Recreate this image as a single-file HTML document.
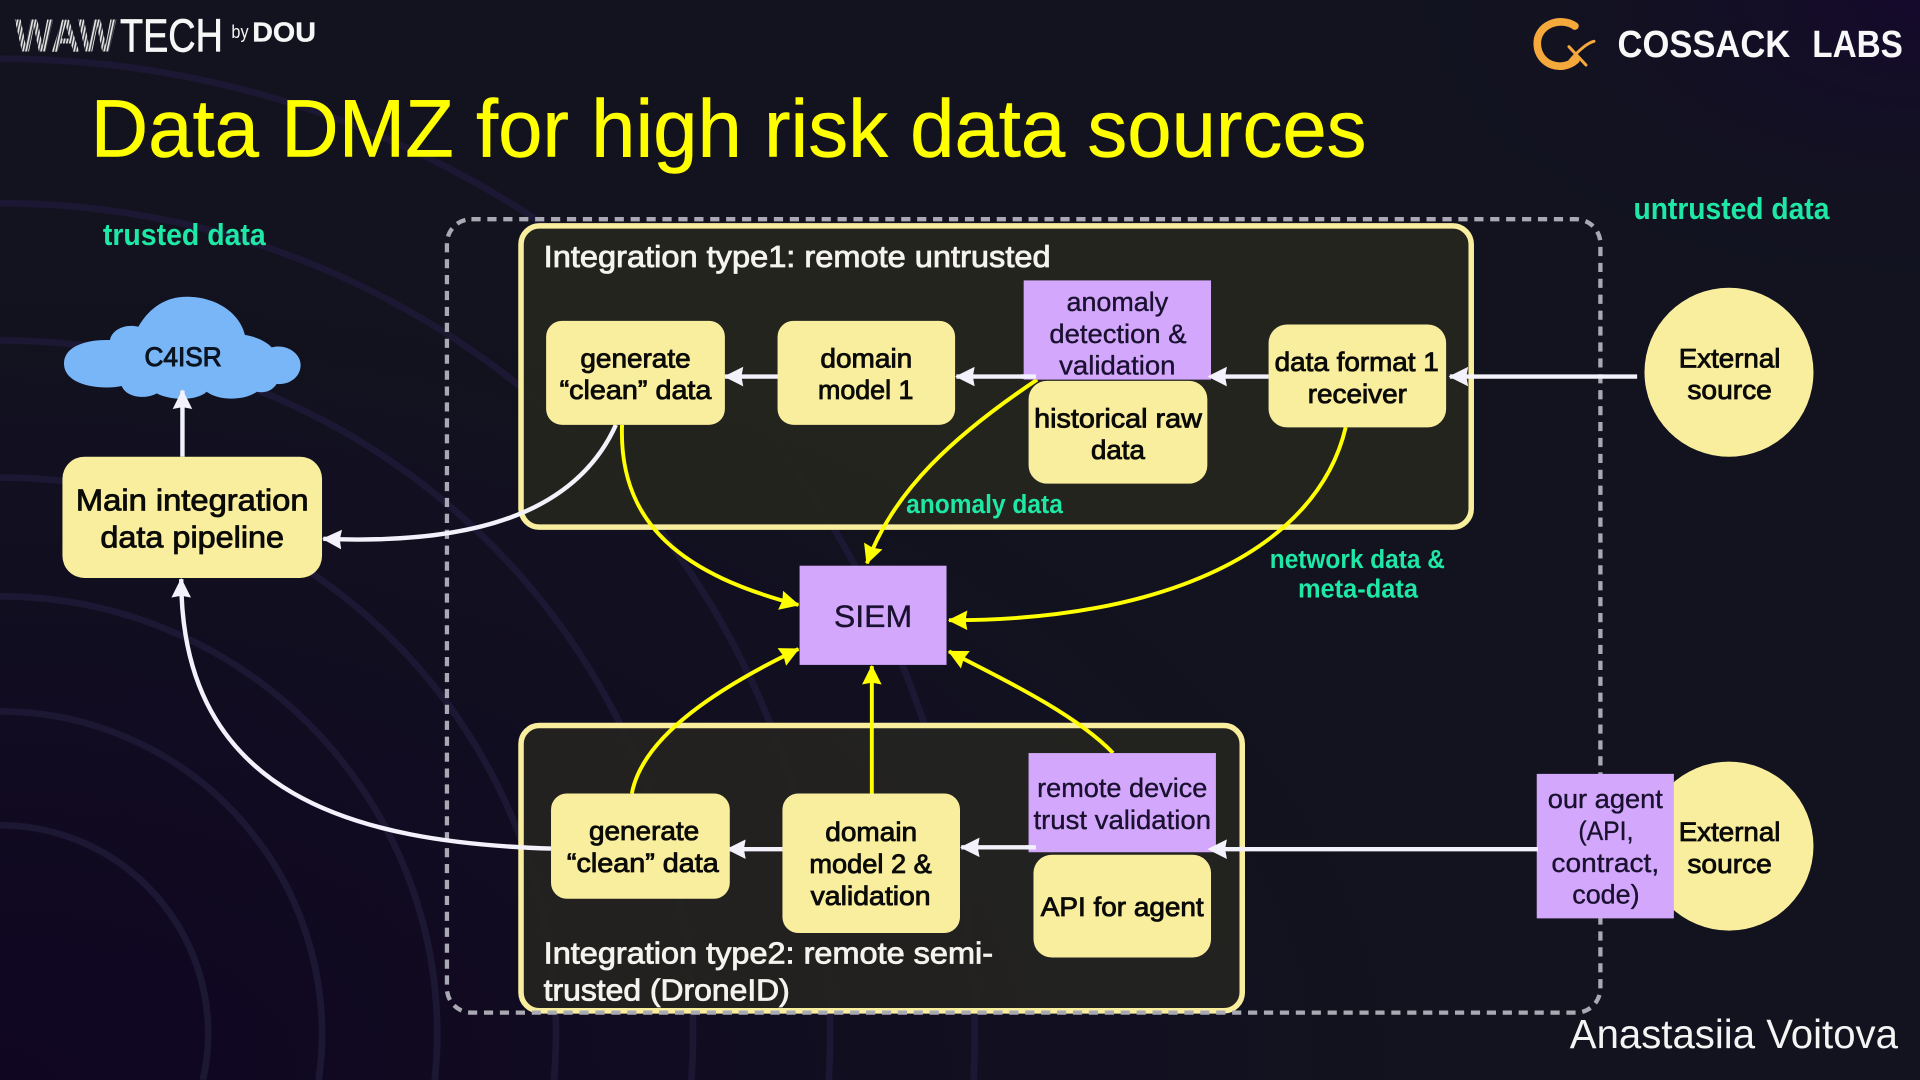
<!DOCTYPE html>
<html lang="en"><head><meta charset="utf-8"><title>Data DMZ for high risk data sources</title>
<style>
html,body{margin:0;padding:0;width:1920px;height:1080px;overflow:hidden;background:#12131f}
svg{display:block;position:absolute;left:0;top:0;overflow:hidden}
text{font-family:"Liberation Sans",sans-serif}
.n text{fill:#0b0b08;stroke:#0b0b08;stroke-width:.7;font-size:22px;text-anchor:middle}
.p text{fill:#1a1030;font-size:22px;text-anchor:middle;stroke:#1a1030;stroke-width:.3}
.g{fill:#1fe8a6;font-weight:bold;font-size:23px}
.w{fill:#f4f3ee;font-size:25px;stroke:#f4f3ee;stroke-width:.7}
</style></head><body>
<svg width="1920" height="1080" viewBox="0 0 1568 882" xmlns="http://www.w3.org/2000/svg">
<defs>
<radialGradient id="bl" cx="0" cy="1" r=".75"><stop offset="0" stop-color="#100622"/><stop offset="1" stop-color="#12131f"/></radialGradient>
<radialGradient id="tr" cx="1" cy="0" r=".3"><stop offset="0" stop-color="#15092c"/><stop offset="1" stop-color="#12131f" stop-opacity="0"/></radialGradient>
<pattern id="st" width="2.400" height="8" patternUnits="userSpaceOnUse" patternTransform="rotate(12)"><rect width="2.400" height="8" fill="#2c2c34"/><rect width="1.400" height="8" fill="#e6e6e6"/></pattern>
<marker id="mw" markerUnits="userSpaceOnUse" markerWidth="20" markerHeight="18" refX="15" refY="8" orient="auto"><path d="M0 0L16 8L0 16L1.500 8Z" fill="#f3f1fb"/></marker>
<marker id="my" markerUnits="userSpaceOnUse" markerWidth="20" markerHeight="18" refX="15" refY="8" orient="auto"><path d="M0 0L16 8L0 16L1.500 8Z" fill="#ffff00"/></marker>
</defs>
<rect width="1568" height="882" fill="url(#bl)"/>
<rect width="1568" height="882" fill="url(#tr)"/>
<g fill="none" stroke="#1c1733" stroke-width="5.500">
<path d="M0 674A170 170 0 0 1 165.700 882"/>
<path d="M0 581A263 263 0 0 1 260.200 882"/>
<path d="M0 487A357 357 0 0 1 355 882"/>
<path d="M0 390A454 454 0 0 1 452.400 882"/>
<path d="M0 278A566 566 0 0 1 564.700 882"/>
<path d="M0 166A678 678 0 0 1 676.900 882"/>
<path d="M0 48A796 796 0 0 1 795.100 882"/>
</g>
<rect x="425.500" y="184.500" width="776" height="246" rx="15" fill="#25251f" fill-opacity=".95" stroke="#f9ee9e" stroke-width="4.500"/>
<rect x="425.500" y="592.500" width="589" height="233" rx="15" fill="#242420" fill-opacity=".88" stroke="#f9ee9e" stroke-width="4.500"/>
<rect x="365" y="179" width="942" height="648" rx="20" fill="none" stroke="#a9a9b3" stroke-width="3.500" stroke-dasharray="7.500 5.500"/>

<text x="74" y="128" font-size="67" fill="#ffff00" stroke="#ffff00" stroke-width=".4" textLength="1042" lengthAdjust="spacingAndGlyphs">Data DMZ for high risk data sources</text>

<text x="12" y="42" font-size="37.500" font-weight="bold" fill="url(#st)" textLength="83" lengthAdjust="spacingAndGlyphs">WAW</text>
<text x="98" y="42" font-size="37.500" fill="#f6f6f6" stroke="#f6f6f6" stroke-width=".6" textLength="84" lengthAdjust="spacingAndGlyphs">TECH</text>
<text x="189" y="31" font-size="15" fill="#f4f4f4" textLength="14" lengthAdjust="spacingAndGlyphs">by</text>
<text x="206" y="34" font-size="23" font-weight="bold" fill="#f6f6f6" stroke="#f6f6f6" stroke-width=".3" textLength="52" lengthAdjust="spacingAndGlyphs">DOU</text>

<g transform="translate(1241.300,8.170) scale(.2722)" fill="none" stroke="#f5a83c" stroke-linecap="round">
<path d="M165 48C120 18 48 45 52 105C56 165 125 188 168 150" stroke-width="23"/>
<path d="M147 110L198 165" stroke-width="9"/>
<path d="M222 94C205 98 178 118 150 152" stroke-width="9"/>
</g>
<text x="1321" y="46.500" font-size="31" font-weight="bold" fill="#f8f8f8" textLength="141" lengthAdjust="spacingAndGlyphs">COSSACK</text>
<text x="1480" y="46.500" font-size="31" font-weight="bold" fill="#f8f8f8" textLength="74" lengthAdjust="spacingAndGlyphs">LABS</text>

<text class="g" x="84" y="200" style="font-size:25px" textLength="133" lengthAdjust="spacingAndGlyphs">trusted data</text>
<text class="g" x="1334" y="179" style="font-size:25px" textLength="160" lengthAdjust="spacingAndGlyphs">untrusted data</text>
<text class="g" x="740" y="419" style="font-size:21px" textLength="128" lengthAdjust="spacingAndGlyphs">anomaly data</text>
<text class="g" x="1037" y="464" style="font-size:21px" textLength="143" lengthAdjust="spacingAndGlyphs">network data &amp;</text>
<text class="g" x="1060" y="488" style="font-size:21px" textLength="98" lengthAdjust="spacingAndGlyphs">meta-data</text>

<text class="w" x="444" y="218" textLength="414" lengthAdjust="spacingAndGlyphs">Integration type1: remote untrusted</text>
<text class="w" x="444" y="787" textLength="367" lengthAdjust="spacingAndGlyphs">Integration type2: remote semi-</text>
<text class="w" x="444" y="817" textLength="201" lengthAdjust="spacingAndGlyphs">trusted (DroneID)</text>
<text x="1282" y="856" font-size="33" fill="#f4f4f4" textLength="268" lengthAdjust="spacingAndGlyphs">Anastasiia Voitova</text>

<!-- cloud -->
<path transform="translate(40.830,228.700) scale(.2722)" fill="#78b6f8" d="M42 250C42 205 95 178 180 180C185 150 225 130 265 140C300 80 350 50 410 50C500 50 570 100 585 165C620 170 650 185 665 202C710 190 752 220 752 255C752 290 720 315 680 312C665 335 640 340 620 335C590 360 510 365 470 335C445 360 370 365 320 340C290 358 230 355 215 318C160 330 42 320 42 250Z"/>
<text x="149.500" y="299" font-size="22" text-anchor="middle" fill="#0b1420" stroke="#0b1420" stroke-width=".8" textLength="63" lengthAdjust="spacingAndGlyphs">C4ISR</text>

<!-- white connectors -->
<g fill="none" stroke="#f3f1fb" stroke-width="3.600">
<path d="M1337 307.500H1184" marker-end="url(#mw)"/>
<path d="M636 307.500H592" marker-end="url(#mw)"/>
<path d="M838 307.500H781" marker-end="url(#mw)"/>
<path d="M842 692H785" marker-end="url(#mw)"/>
<path d="M639 693.500H594" marker-end="url(#mw)"/>
<path d="M450 693C290 688 148 650 148 473" marker-end="url(#mw)"/>
<path d="M503 347C470 420 385 445 264 440" marker-end="url(#mw)"/>
<path d="M149 373V319" marker-end="url(#mw)"/>
</g>
<!-- yellow connectors -->
<g fill="none" stroke="#ffff00" stroke-width="3.200">
<path d="M508 347C505 430 560 470 652 494" marker-end="url(#my)"/>
<path d="M847 310C780 355 730 400 708 460" marker-end="url(#my)"/>
<path d="M1099 349C1075 450 950 507 775 506.500" marker-end="url(#my)"/>
<path d="M516 648C525 600 590 560 652 530" marker-end="url(#my)"/>
<path d="M712 648V544" marker-end="url(#my)"/>
<path d="M909 615C880 585 830 560 775 532" marker-end="url(#my)"/>
</g>

<!-- yellow nodes -->
<g fill="#f9ee9e">
<rect x="446" y="262" width="146" height="85" rx="13"/>
<rect x="635" y="262" width="145" height="85" rx="13"/>
<rect x="840" y="311" width="146" height="84" rx="15"/>
<rect x="1036" y="265" width="145" height="84" rx="15"/>
<rect x="450" y="648" width="146" height="86" rx="13"/>
<rect x="639" y="648" width="145" height="114" rx="13"/>
<rect x="844" y="698" width="145" height="84" rx="15"/>
<rect x="51" y="373" width="212" height="99" rx="18"/>
<circle cx="1412" cy="304" r="69"/>
<circle cx="1412" cy="691" r="69"/>
</g>
<!-- purple nodes -->
<g fill="#d3a8fc">
<rect x="836" y="229" width="153" height="81"/>
<rect x="840" y="615" width="153" height="81"/>
<rect x="653" y="462" width="120" height="81"/>
<rect x="1255" y="632" width="112" height="118"/>
</g>
<!-- arrows that land on the purple edges -->
<g fill="none" stroke="#f3f1fb" stroke-width="3.600">
<path d="M1036 307.500H995"/><path d="M1256 693.500H995"/><path d="M846 307.500H834"/><path d="M846 692H838"/>
</g>
<path d="M1002 299.500L986 307.500L1002 315.500L1000.500 307.500Z" fill="#f3f1fb"/>
<path d="M1002 685.500L986 693.500L1002 701.500L1000.500 693.500Z" fill="#f3f1fb"/>

<g class="n">
<text x="519" y="300" textLength="90" lengthAdjust="spacingAndGlyphs">generate</text>
<text x="519" y="326" textLength="124" lengthAdjust="spacingAndGlyphs">“clean” data</text>
<text x="707.500" y="300" textLength="75" lengthAdjust="spacingAndGlyphs">domain</text>
<text x="707" y="326" textLength="78" lengthAdjust="spacingAndGlyphs">model 1</text>
<text x="913" y="349" textLength="137" lengthAdjust="spacingAndGlyphs">historical raw</text>
<text x="913" y="375" textLength="44" lengthAdjust="spacingAndGlyphs">data</text>
<text x="1108" y="303" textLength="134" lengthAdjust="spacingAndGlyphs">data format 1</text>
<text x="1108.500" y="329" textLength="81" lengthAdjust="spacingAndGlyphs">receiver</text>
<text x="1412.500" y="300" textLength="83" lengthAdjust="spacingAndGlyphs">External</text>
<text x="1412.500" y="326" textLength="69" lengthAdjust="spacingAndGlyphs">source</text>
<text x="1412.500" y="687" textLength="83" lengthAdjust="spacingAndGlyphs">External</text>
<text x="1412.500" y="713" textLength="69" lengthAdjust="spacingAndGlyphs">source</text>
<text x="526" y="686" textLength="90" lengthAdjust="spacingAndGlyphs">generate</text>
<text x="525" y="712" textLength="124" lengthAdjust="spacingAndGlyphs">“clean” data</text>
<text x="711.500" y="687" textLength="75" lengthAdjust="spacingAndGlyphs">domain</text>
<text x="711" y="713" textLength="100" lengthAdjust="spacingAndGlyphs">model 2 &amp;</text>
<text x="711" y="739" textLength="98" lengthAdjust="spacingAndGlyphs">validation</text>
<text x="916.500" y="748" textLength="133" lengthAdjust="spacingAndGlyphs">API for agent</text>
<text x="157" y="417" style="font-size:25px" textLength="190" lengthAdjust="spacingAndGlyphs">Main integration</text>
<text x="157" y="447" style="font-size:25px" textLength="150" lengthAdjust="spacingAndGlyphs">data pipeline</text>
</g>
<g class="p">
<text x="912.500" y="254" textLength="83" lengthAdjust="spacingAndGlyphs">anomaly</text>
<text x="913" y="280" textLength="112" lengthAdjust="spacingAndGlyphs">detection &amp;</text>
<text x="912.500" y="306" textLength="95" lengthAdjust="spacingAndGlyphs">validation</text>
<text x="916.500" y="651" textLength="139" lengthAdjust="spacingAndGlyphs">remote device</text>
<text x="916.500" y="677" textLength="145" lengthAdjust="spacingAndGlyphs">trust validation</text>
<text x="1311" y="660" textLength="94" lengthAdjust="spacingAndGlyphs">our agent</text>
<text x="1311.500" y="686" textLength="45" lengthAdjust="spacingAndGlyphs">(API,</text>
<text x="1311" y="712" textLength="88" lengthAdjust="spacingAndGlyphs">contract,</text>
<text x="1311.500" y="738" textLength="55" lengthAdjust="spacingAndGlyphs">code)</text>
<text x="713" y="512" style="font-size:26px" textLength="64" lengthAdjust="spacingAndGlyphs">SIEM</text>
</g>
</svg>
</body></html>
